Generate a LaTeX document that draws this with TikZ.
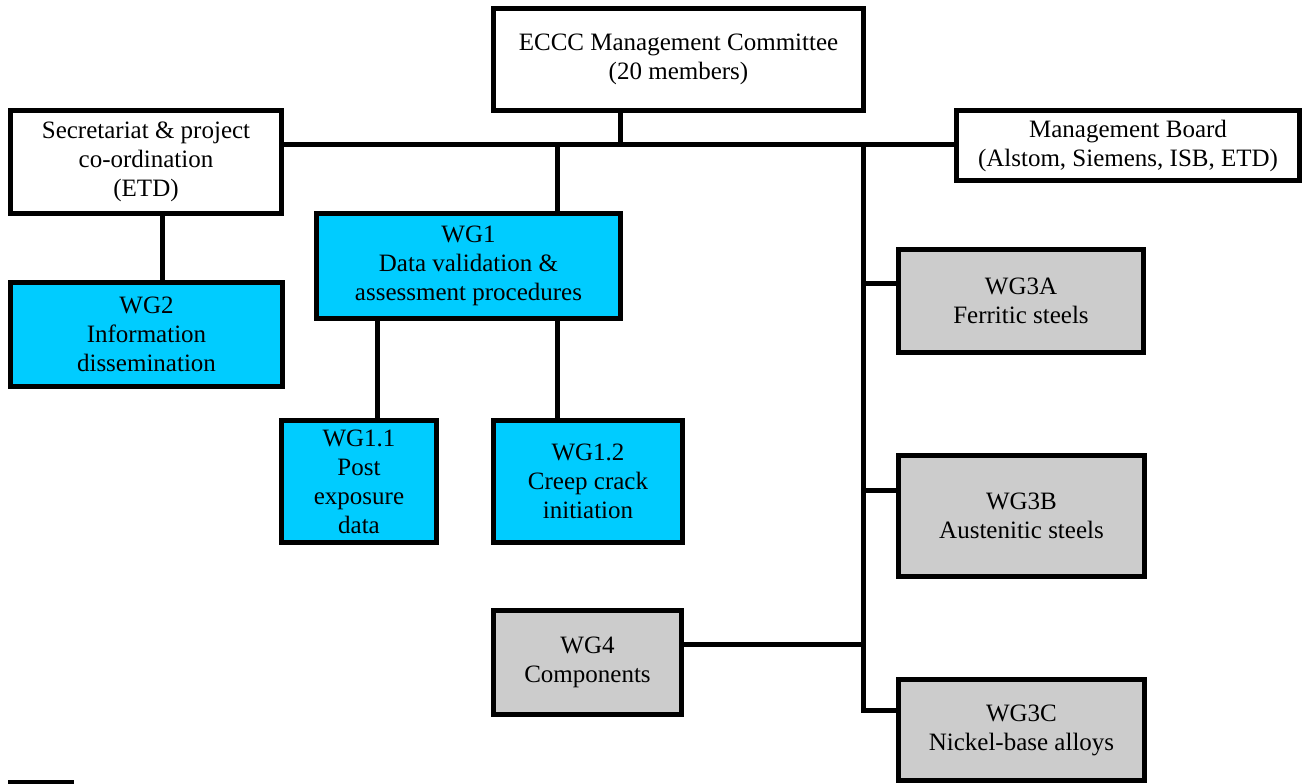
\documentclass[tikz,border=0pt]{standalone}
\usepackage{fontspec}
\setmainfont{Liberation Serif}
\newfontfamily\tnrfont{Liberation Serif}
\definecolor{wgblue}{HTML}{00CCFF}
\definecolor{wggray}{HTML}{CCCCCC}
\begin{document}
\begin{tikzpicture}[x=1pt,y=-1pt,
  box/.style={draw=black, line width=5pt, align=center, inner sep=0pt,
    font=\tnrfont\fontsize{25}{29}\selectfont},
  whitebox/.style={box, fill=white},
  bluebox/.style={box, fill=wgblue},
  graybox/.style={box, fill=wggray},
  link/.style={line width=5pt}]
\useasboundingbox (0,0) rectangle (1302,784);

% boxes
\node[whitebox, minimum width=370pt, minimum height=102pt] (ECCC) at (678.5,59.5)
  {ECCC Management Committee\\(20 members)};
\node[whitebox, minimum width=271pt, minimum height=103pt] (Sec) at (146,162)
  {Secretariat \& project\\co-ordination\\(ETD)};
\node[whitebox, minimum width=343pt, minimum height=70pt] (MB) at (1128,145.5)
  {Management Board\\(Alstom, Siemens, ISB, ETD)};
\node[bluebox, minimum width=272pt, minimum height=104pt] (WG2) at (146.5,334.5)
  {WG2\\Information\\dissemination};
\node[bluebox, minimum width=304pt, minimum height=105pt] (WG1) at (468.5,266)
  {WG1\\Data validation \&\\assessment procedures};
\node[bluebox, minimum width=155pt, minimum height=122pt] (WG11) at (359,481.5)
  {WG1.1\\Post\\exposure\\data};
\node[bluebox, minimum width=189pt, minimum height=122pt] (WG12) at (588,481.5)
  {WG1.2\\Creep crack\\initiation};
\node[graybox, minimum width=245pt, minimum height=103pt] (WG3A) at (1021,301)
  {WG3A\\Ferritic steels};
\node[graybox, minimum width=246pt, minimum height=121pt] (WG3B) at (1021.5,516)
  {WG3B\\Austenitic steels};
\node[graybox, minimum width=246pt, minimum height=101pt] (WG3C) at (1021.5,730)
  {WG3C\\Nickel-base alloys};
\node[graybox, minimum width=188pt, minimum height=104pt] (WG4) at (587.5,662.5)
  {WG4\\Components};

% helper coordinates
\coordinate (hl) at (0,144);
\coordinate (c0) at (620,0);
\coordinate (c1) at (557,0);
\coordinate (c2) at (162,0);
\coordinate (c3) at (377,0);
\coordinate (t) at (863,0);
\coordinate (yA) at (0,283);
\coordinate (yB) at (0,490);
\coordinate (y4) at (0,644);
\coordinate (yC) at (0,710);

% connectors
\draw[link] (Sec.east |- hl) -- (MB.west |- hl);
\draw[link] (ECCC.south -| c0) -- (hl -| c0);
\draw[link] (hl -| c1) -- (WG1.north -| c1);
\draw[link] (Sec.south -| c2) -- (WG2.north -| c2);
\draw[link] (WG1.south -| c3) -- (WG11.north -| c3);
\draw[link] (WG1.south -| c1) -- (WG12.north -| c1);
\draw[link, line join=miter] (hl -| t) -- (yC -| t) -- (yC -| WG3C.west);
\draw[link] (yA -| t) -- (yA -| WG3A.west);
\draw[link] (yB -| t) -- (yB -| WG3B.west);
\draw[link] (y4 -| WG4.east) -- (y4 -| t);

% small mark at bottom left
\fill[black] (8,780) rectangle (74,784);
\end{tikzpicture}
\end{document}
